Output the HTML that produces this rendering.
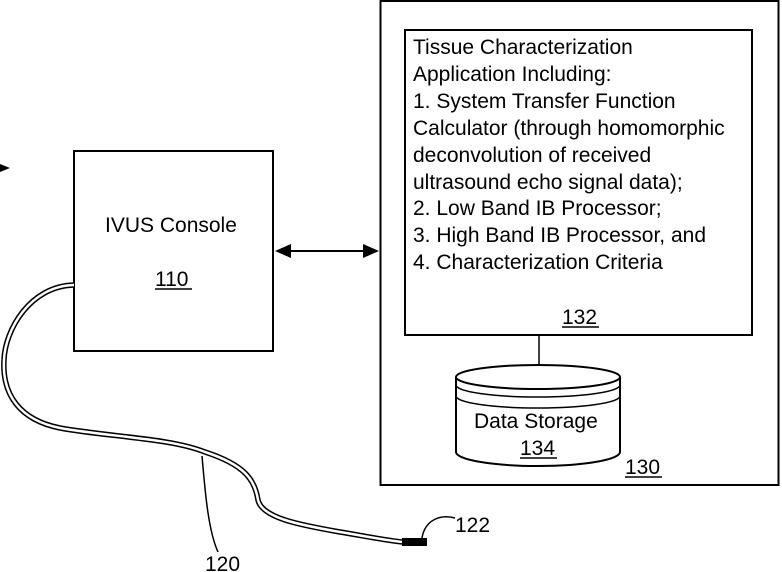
<!DOCTYPE html>
<html><head><style>
body{margin:0;background:#fff;}
svg{display:block;}
text{font-family:"Liberation Sans",Arial,sans-serif;fill:#000;}
</style></head><body>
<svg width="782" height="572" viewBox="0 0 782 572" xmlns="http://www.w3.org/2000/svg">
<rect x="380.5" y="1" width="398" height="484" fill="none" stroke="#000" stroke-width="2"/>
<rect x="405" y="30" width="347" height="305" fill="none" stroke="#000" stroke-width="2"/>
<rect x="74" y="151" width="199" height="200" fill="none" stroke="#000" stroke-width="2"/>
<line x1="539" y1="335" x2="539" y2="367" stroke="#000" stroke-width="1.5"/>
<path d="M456,377 A82,12 0 0 1 620,377 L620,452 A82,14 0 0 1 456,452 Z" fill="#fff" stroke="#000" stroke-width="2"/>
<path d="M456,377 A82,12 0 0 0 620,377" fill="none" stroke="#000" stroke-width="2"/>
<path d="M456,385 A82,12 0 0 0 620,385" fill="none" stroke="#000" stroke-width="1.5"/>
<path d="M456,396 A82,12 0 0 0 620,396" fill="none" stroke="#000" stroke-width="1.5"/>
<g font-size="21">
<text x="413" y="54">Tissue Characterization</text>
<text x="413" y="81">Application Including:</text>
<text x="413" y="108">1. System Transfer Function</text>
<text x="413" y="135">Calculator (through homomorphic</text>
<text x="413" y="162">deconvolution of received</text>
<text x="413" y="189">ultrasound echo signal data);</text>
<text x="413" y="215">2. Low Band IB Processor;</text>
<text x="413" y="242">3. High Band IB Processor, and</text>
<text x="413" y="269">4. Characterization Criteria</text>
<text x="562" y="324">132</text>
<text x="105" y="232">IVUS Console</text>
<text x="155" y="286">110</text>
<text x="474" y="428">Data Storage</text>
<text x="520" y="455">134</text>
<text x="625" y="474">130</text>
<text x="205" y="571">120</text>
<text x="455" y="532">122</text>
</g>
<g stroke="#000" stroke-width="1.5">
<line x1="562" y1="327" x2="599" y2="327"/>
<line x1="155" y1="289" x2="192" y2="289"/>
<line x1="520" y1="458" x2="557" y2="458"/>
<line x1="625" y1="477" x2="662" y2="477"/>
</g>
<line x1="285" y1="251" x2="368" y2="251" stroke="#000" stroke-width="2"/>
<polygon points="275,251 291,244 291,258" fill="#000"/>
<polygon points="379,251 363,244 363,258" fill="#000"/>
<path d="M74,285 C30,286 5,330 4,360 C2,395 20,420 60,428 C110,437 170,438 205,452 C245,465 255,480 258,500 C262,518 300,525 340,532 C370,537 390,541 403,542" fill="none" stroke="#000" stroke-width="5.5"/>
<path d="M74,285 C30,286 5,330 4,360 C2,395 20,420 60,428 C110,437 170,438 205,452 C245,465 255,480 258,500 C262,518 300,525 340,532 C370,537 390,541 403,542" fill="none" stroke="#fff" stroke-width="2.5"/>
<rect x="402" y="538" width="25" height="8" fill="#000"/>
<path d="M202,456 C205,490 208,530 218,552" fill="none" stroke="#000" stroke-width="1.5"/>
<path d="M422,538 C425,520 440,514 455,518" fill="none" stroke="#000" stroke-width="1.5"/>
<polygon points="0,164 10,168 0,172" fill="#000"/>
</svg>
</body></html>
